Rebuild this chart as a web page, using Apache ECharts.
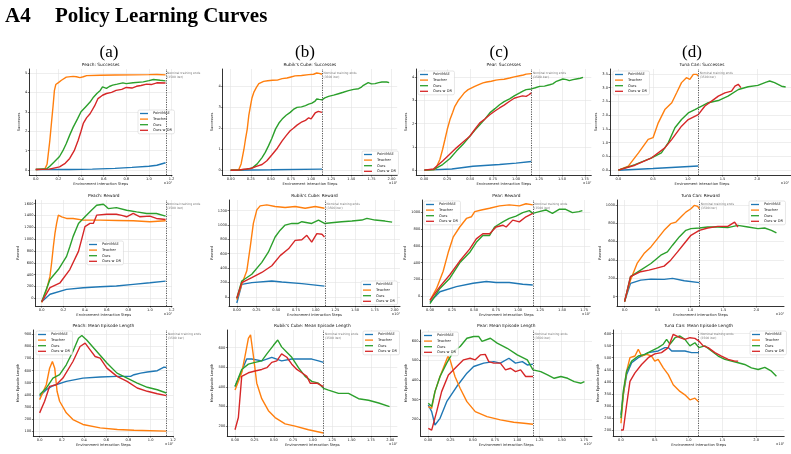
<!DOCTYPE html>
<html>
<head>
<meta charset="utf-8">
<title>Policy Learning Curves</title>
<script src="https://cdn.jsdelivr.net/npm/echarts@6.0.0/dist/echarts.min.js"></script>
<style>
  html, body { margin: 0; padding: 0; background: #fff; }
  #main { width: 791px; height: 454px; }
</style>
</head>
<body>
<div id="main"></div>
<script>
// ---- data: [steps, value] ----
const NAMES = ['PointMAE', 'Teacher', 'Ours', 'Ours w DR'];

// Peach: Successes
const peachSuccMAE = [[0,0.03],[0.3,0.03],[0.5,0.05],[0.7,0.09],[0.85,0.14],[1.0,0.2],[1.07,0.25],[1.147,0.38]];
const peachSuccTeacher = [[0,0.03],[0.08,0.05],[0.1,0.3],[0.124,1.5],[0.14,2.5],[0.153,3.3],[0.165,4.1],[0.177,4.4],[0.2,4.5],[0.227,4.62],[0.27,4.78],[0.33,4.82],[0.36,4.8],[0.39,4.76],[0.42,4.8],[0.45,4.86],[0.57,4.88],[0.7,4.89],[0.86,4.9],[1.0,4.91],[1.07,4.92],[1.147,4.9]];
const peachSuccOurs = [[0,0.03],[0.1,0.08],[0.124,0.2],[0.16,0.4],[0.21,0.7],[0.24,1.0],[0.27,1.37],[0.3,1.8],[0.33,2.2],[0.37,2.65],[0.40,3.0],[0.44,3.25],[0.48,3.5],[0.51,3.75],[0.54,3.94],[0.57,4.1],[0.59,4.28],[0.625,4.2],[0.65,4.3],[0.68,4.37],[0.72,4.42],[0.77,4.49],[0.8,4.45],[0.86,4.49],[0.95,4.54],[1.0,4.6],[1.04,4.66],[1.1,4.62],[1.147,4.59]];
const peachSuccDR = [[0,0.03],[0.12,0.05],[0.21,0.17],[0.26,0.35],[0.30,0.6],[0.34,1.0],[0.375,1.54],[0.40,2.0],[0.42,2.4],[0.45,2.7],[0.48,2.9],[0.52,3.3],[0.55,3.68],[0.59,3.85],[0.625,3.94],[0.67,4.0],[0.71,4.1],[0.76,4.15],[0.80,4.25],[0.85,4.22],[0.89,4.31],[0.93,4.35],[0.98,4.42],[1.02,4.4],[1.07,4.49],[1.147,4.48]];

// Rubik's Cube: Successes
const rubikSuccMAE = [[0,0],[0.5,0.02],[1.135,0.05]];
const rubikSuccTeacher = [[0,0],[0.1,0.02],[0.13,0.3],[0.165,1.0],[0.185,1.5],[0.206,1.96],[0.225,2.6],[0.247,3.08],[0.265,3.45],[0.289,3.73],[0.32,3.95],[0.35,4.13],[0.41,4.24],[0.46,4.27],[0.52,4.29],[0.58,4.3],[0.64,4.37],[0.7,4.4],[0.75,4.45],[0.80,4.5],[0.88,4.52],[0.97,4.56],[1.03,4.58],[1.07,4.64],[1.1,4.62],[1.135,4.58]];
const rubikSuccOurs = [[0,0],[0.1,0.01],[0.2,0.05],[0.27,0.11],[0.33,0.3],[0.39,0.6],[0.43,0.85],[0.47,1.16],[0.51,1.5],[0.557,1.96],[0.6,2.25],[0.64,2.44],[0.69,2.62],[0.74,2.76],[0.78,2.9],[0.825,3.0],[0.88,3.02],[0.93,3.08],[0.97,3.15],[1.01,3.2],[1.05,3.3],[1.07,3.4],[1.1,3.38],[1.135,3.36],[1.17,3.45],[1.217,3.52],[1.28,3.58],[1.34,3.65],[1.4,3.72],[1.465,3.8],[1.53,3.86],[1.59,3.89],[1.62,3.95],[1.65,4.05],[1.71,4.18],[1.75,4.12],[1.795,4.13],[1.84,4.18],[1.88,4.21],[1.94,4.21],[1.97,4.18]];
const rubikSuccDR = [[0,0],[0.1,0.01],[0.25,0.08],[0.32,0.18],[0.39,0.27],[0.45,0.45],[0.516,0.75],[0.58,1.05],[0.64,1.4],[0.69,1.65],[0.74,1.88],[0.78,2.0],[0.825,2.15],[0.887,2.31],[0.93,2.38],[0.97,2.5],[1.0,2.45],[1.05,2.73],[1.09,2.81],[1.135,2.76]];

// Pear: Successes
const pearSuccMAE = [[0,0],[0.3,0.05],[0.53,0.17],[0.82,0.24],[1.0,0.3],[1.167,0.37]];
const pearSuccTeacher = [[0,0],[0.116,0.02],[0.14,0.2],[0.17,0.46],[0.2,0.9],[0.225,1.32],[0.25,1.75],[0.28,2.18],[0.31,2.5],[0.333,2.75],[0.37,3.0],[0.406,3.18],[0.44,3.35],[0.478,3.47],[0.55,3.61],[0.6,3.7],[0.64,3.76],[0.68,3.8],[0.73,3.83],[0.78,3.88],[0.82,3.9],[0.87,3.92],[0.93,3.97],[0.98,4.02],[1.04,4.07],[1.08,4.1],[1.11,4.14],[1.167,4.16]];
const pearSuccOurs = [[0,0],[0.1,0.02],[0.2,0.24],[0.28,0.5],[0.35,0.82],[0.42,1.1],[0.496,1.46],[0.55,1.72],[0.605,1.96],[0.66,2.2],[0.714,2.47],[0.77,2.65],[0.82,2.82],[0.87,2.95],[0.93,3.07],[0.98,3.2],[1.04,3.33],[1.08,3.42],[1.11,3.47],[1.167,3.5],[1.21,3.55],[1.257,3.61],[1.31,3.62],[1.366,3.68],[1.4,3.72],[1.44,3.83],[1.51,3.93],[1.55,3.9],[1.58,3.86],[1.62,3.9],[1.656,3.93],[1.7,3.96],[1.73,4.0]];
const pearSuccDR = [[0,0],[0.1,0.05],[0.2,0.39],[0.28,0.7],[0.35,0.96],[0.42,1.2],[0.496,1.46],[0.55,1.75],[0.605,2.04],[0.66,2.2],[0.714,2.39],[0.77,2.55],[0.82,2.68],[0.87,2.8],[0.93,2.97],[0.98,3.1],[1.02,3.15],[1.07,3.2],[1.11,3.18],[1.14,3.25],[1.167,3.33]];

// Tuna Can: Successes
const tunaSuccMAE = [[0,0],[0.5,0.06],[1.151,0.15]];
const tunaSuccTeacher = [[0,0],[0.144,0.15],[0.29,0.63],[0.43,1.12],[0.5,1.18],[0.575,1.72],[0.67,2.2],[0.77,2.45],[0.84,2.81],[0.91,3.18],[0.98,3.36],[1.03,3.3],[1.08,3.48],[1.127,3.48],[1.151,3.42]];
const tunaSuccOurs = [[0,0],[0.24,0.2],[0.48,0.45],[0.62,0.63],[0.72,1.0],[0.815,1.54],[0.91,1.84],[1.007,2.08],[1.103,2.2],[1.2,2.33],[1.295,2.45],[1.44,2.53],[1.58,2.69],[1.73,2.93],[1.87,3.03],[2.01,3.08],[2.13,3.2],[2.18,3.24],[2.25,3.18],[2.35,3.05],[2.41,3.02]];
const tunaSuccDR = [[0,0],[0.24,0.18],[0.48,0.45],[0.67,0.81],[0.77,1.12],[0.91,1.6],[1.007,1.84],[1.151,2.02],[1.247,2.33],[1.343,2.51],[1.44,2.69],[1.535,2.81],[1.63,2.87],[1.68,3.05],[1.727,3.12],[1.765,3.0]];

// Peach: Reward
const peachRewMAE = [[0,-60],[0.077,67],[0.23,150],[0.385,178],[0.54,195],[0.69,206],[0.846,234],[1.0,262],[1.145,290]];
const peachRewTeacher = [[0,-72],[0.046,150],[0.077,373],[0.092,600],[0.108,875],[0.123,1100],[0.138,1265],[0.154,1405],[0.17,1390],[0.185,1377],[0.23,1349],[0.29,1349],[0.385,1320],[0.54,1320],[0.7,1315],[0.846,1310],[1.0,1293],[1.145,1310]];
const peachRewOurs = [[0,-60],[0.077,318],[0.154,485],[0.23,708],[0.26,870],[0.29,1042],[0.34,1265],[0.4,1377],[0.46,1488],[0.508,1572],[0.57,1589],[0.59,1560],[0.615,1516],[0.69,1533],[0.785,1488],[0.877,1460],[0.97,1433],[1.06,1433],[1.145,1388]];
const peachRewDR = [[0,-60],[0.077,178],[0.17,262],[0.26,485],[0.34,792],[0.37,1000],[0.4,1210],[0.446,1265],[0.477,1265],[0.508,1405],[0.6,1421],[0.69,1421],[0.74,1400],[0.785,1377],[0.846,1433],[0.908,1377],[1.0,1388],[1.06,1349],[1.145,1332]];

// Rubik's Cube: Reward
const rubikRewMAE = [[0,-85],[0.063,174],[0.19,198],[0.444,221],[0.57,207],[0.825,184],[1.112,150]];
const rubikRewTeacher = [[0,-38],[0.063,174],[0.127,362],[0.17,692],[0.21,1021],[0.254,1209],[0.296,1266],[0.38,1280],[0.486,1256],[0.613,1242],[0.74,1256],[0.867,1233],[0.994,1256],[1.112,1233]];
const rubikRewOurs = [[0,-20],[0.063,221],[0.19,315],[0.317,480],[0.4,621],[0.486,833],[0.55,927],[0.613,998],[0.698,1021],[0.78,1021],[0.825,1045],[0.95,1021],[1.036,1068],[1.112,1021],[1.2,1031],[1.33,1045],[1.46,1054],[1.586,1068],[1.65,1092],[1.755,1068],[1.88,1054],[1.97,1040]];
const rubikRewDR = [[0,-20],[0.063,198],[0.19,268],[0.317,339],[0.444,433],[0.55,574],[0.656,668],[0.74,786],[0.825,795],[0.888,856],[0.95,762],[1.015,880],[1.08,871],[1.112,833]];

// Pear: Reward
const pearRewMAE = [[0,-69],[0.113,53],[0.3,114],[0.489,154],[0.64,175],[0.75,163],[0.9,163],[1.053,142],[1.167,134]];
const pearRewTeacher = [[0,-49],[0.075,93],[0.15,297],[0.207,520],[0.263,703],[0.338,825],[0.414,927],[0.47,947],[0.508,1008],[0.583,1028],[0.677,1049],[0.79,1077],[0.9,1089],[1.015,1077],[1.09,1102],[1.167,1089]];
const pearRewOurs = [[0,-89],[0.113,93],[0.226,215],[0.338,398],[0.45,520],[0.526,642],[0.6,724],[0.677,724],[0.733,825],[0.827,886],[0.9,927],[0.977,955],[1.053,996],[1.128,1020],[1.167,988],[1.24,1008],[1.316,1028],[1.39,988],[1.466,1036],[1.54,1036],[1.617,996],[1.69,1008],[1.73,1020]];
const pearRewDR = [[0,-49],[0.113,114],[0.226,256],[0.338,419],[0.45,561],[0.526,683],[0.6,744],[0.677,744],[0.75,825],[0.827,846],[0.865,825],[0.94,907],[1.015,886],[1.09,947],[1.167,988]];

// Tuna Can: Reward
const tunaRewMAE = [[0,-54],[0.09,144],[0.244,180],[0.4,191],[0.6,188],[0.728,199],[0.906,173],[1.135,152]];
const tunaRewTeacher = [[0,-54],[0.04,54],[0.09,180],[0.19,361],[0.295,469],[0.4,541],[0.5,632],[0.6,722],[0.7,794],[0.78,812],[0.855,866],[0.93,920],[1.007,957],[1.058,993],[1.11,982],[1.135,957]];
const tunaRewOurs = [[0,-54],[0.09,217],[0.244,289],[0.4,361],[0.55,451],[0.65,487],[0.728,560],[0.83,650],[0.93,722],[1.007,740],[1.135,747],[1.262,758],[1.415,758],[1.567,751],[1.72,776],[1.873,758],[2.025,740],[2.127,747],[2.229,722],[2.305,693]];
const tunaRewDR = [[0,-54],[0.09,217],[0.244,271],[0.37,289],[0.473,307],[0.6,332],[0.7,397],[0.804,487],[0.906,578],[1.007,668],[1.135,722],[1.262,747],[1.415,765],[1.567,765],[1.67,812],[1.72,758]];

// Peach: Mean Episode Length
const peachLenMAE = [[0,388],[0.06,442],[0.12,475],[0.24,511],[0.39,538],[0.545,547],[0.697,552],[0.82,552],[0.85,566],[0.91,579],[0.97,588],[1.06,599],[1.12,629],[1.142,626]];
const peachLenTeacher = [[0,360],[0.06,483],[0.09,620],[0.115,675],[0.136,620],[0.157,429],[0.18,347],[0.24,251],[0.30,196],[0.39,155],[0.545,127],[0.70,114],[0.85,108],[1.142,100]];
const peachLenOurs = [[0,401],[0.06,456],[0.12,538],[0.18,566],[0.24,648],[0.30,758],[0.35,867],[0.38,889],[0.424,853],[0.515,758],[0.606,662],[0.697,579],[0.788,538],[0.879,497],[0.97,462],[1.06,442],[1.142,415]];
const peachLenDR = [[0,251],[0.045,347],[0.09,470],[0.15,483],[0.21,538],[0.30,675],[0.364,799],[0.41,826],[0.455,771],[0.5,716],[0.545,703],[0.606,620],[0.697,552],[0.788,511],[0.879,456],[0.97,429],[1.06,409],[1.142,393]];

// Rubik's Cube: Mean Episode Length
const rubikLenMAE = [[0,402],[0.086,481],[0.15,542],[0.215,542],[0.344,533],[0.473,551],[0.6,533],[0.731,542],[0.86,542],[0.989,542],[1.075,533],[1.14,525]];
const rubikLenTeacher = [[0,384],[0.043,428],[0.086,472],[0.13,560],[0.172,647],[0.2,665],[0.236,560],[0.28,419],[0.344,340],[0.43,279],[0.516,244],[0.645,212],[0.774,200],[0.946,182],[1.14,165]];
const rubikLenOurs = [[0,402],[0.086,489],[0.172,516],[0.258,525],[0.344,533],[0.41,568],[0.495,612],[0.55,639],[0.6,604],[0.667,577],[0.731,551],[0.817,498],[0.903,454],[0.989,428],[1.075,419],[1.14,393],[1.204,384],[1.333,367],[1.462,367],[1.591,340],[1.72,332],[1.85,318],[1.99,300]];
const rubikLenDR = [[0,182],[0.043,244],[0.086,454],[0.172,472],[0.258,481],[0.344,489],[0.41,498],[0.473,525],[0.538,533],[0.6,568],[0.667,551],[0.731,516],[0.796,489],[0.86,472],[0.925,454],[0.968,419],[1.054,419],[1.14,402]];

// Pear: Mean Episode Length
const pearLenMAE = [[0,273],[0.038,239],[0.075,171],[0.132,205],[0.207,290],[0.32,367],[0.434,435],[0.51,469],[0.623,486],[0.736,494],[0.81,486],[0.906,511],[0.98,486],[1.057,494],[1.113,477],[1.177,481]];
const pearLenTeacher = [[0,265],[0.038,256],[0.075,341],[0.132,418],[0.19,486],[0.22,520],[0.245,503],[0.30,418],[0.358,358],[0.434,290],[0.528,239],[0.66,214],[0.81,197],[0.96,185],[1.075,180],[1.177,175]];
const pearLenOurs = [[0,282],[0.038,265],[0.075,341],[0.132,418],[0.207,486],[0.283,546],[0.358,571],[0.434,613],[0.51,622],[0.566,622],[0.604,597],[0.698,613],[0.774,588],[0.887,562],[1.0,528],[1.113,503],[1.177,452],[1.264,443],[1.34,426],[1.415,409],[1.49,418],[1.566,409],[1.64,392],[1.717,384],[1.755,392]];
const pearLenDR = [[0,154],[0.038,145],[0.094,239],[0.15,341],[0.226,426],[0.32,469],[0.396,503],[0.47,511],[0.528,503],[0.585,528],[0.64,531],[0.68,494],[0.736,486],[0.81,486],[0.868,452],[0.925,460],[0.98,443],[1.038,452],[1.094,418],[1.177,418]];

// Tuna Can: Mean Episode Length
const tunaLenMAE = [[0,263],[0.034,346],[0.084,430],[0.158,479],[0.256,500],[0.404,521],[0.55,528],[0.65,542],[0.7,542],[0.75,528],[0.847,528],[0.946,528],[1.044,521],[1.153,521]];
const tunaLenTeacher = [[0,228],[0.034,346],[0.084,444],[0.133,500],[0.207,507],[0.256,535],[0.305,507],[0.38,514],[0.453,507],[0.5,486],[0.55,493],[0.626,458],[0.7,430],[0.773,388],[0.872,360],[0.946,346],[1.02,325],[1.094,332],[1.153,316]];
const tunaLenOurs = [[0,249],[0.034,360],[0.084,444],[0.158,486],[0.256,507],[0.355,514],[0.453,528],[0.55,542],[0.626,556],[0.675,576],[0.724,556],[0.8,583],[0.872,590],[0.946,576],[1.02,549],[1.094,562],[1.153,542],[1.24,549],[1.34,528],[1.438,507],[1.537,493],[1.635,486],[1.734,479],[1.83,472],[1.93,458],[2.03,451],[2.128,460],[2.227,444],[2.3,423]];
const tunaLenDR = [[0,200],[0.034,200],[0.084,305],[0.133,402],[0.207,437],[0.305,472],[0.404,500],[0.5,516],[0.6,521],[0.7,542],[0.773,597],[0.872,583],[0.946,576],[1.02,583],[1.094,580],[1.153,569],[1.217,549],[1.29,542],[1.39,521],[1.487,507],[1.586,493],[1.685,486],[1.734,486]];

// tick labels
const xTicksA = [0, 0.2, 0.4, 0.6, 0.8, 1.0, 1.2];
const xTicksB = [0, 0.25, 0.5, 0.75, 1.0, 1.25, 1.5, 1.75, 2.0];
const xTicksC = [0, 0.25, 0.5, 0.75, 1.0, 1.25, 1.5, 1.75];
const xTicksD = [0, 0.5, 1.0, 1.5, 2.0];
const yTicksSuccA = [0, 1, 2, 3, 4, 5];
const yTicksSuccBC = [0, 1, 2, 3, 4];
const yTicksSuccD = [0, 0.5, 1.0, 1.5, 2.0, 2.5, 3.0, 3.5];
const yTicksRewA = [0, 200, 400, 600, 800, 1000, 1200, 1400, 1600];
const yTicksRewB = [0, 200, 400, 600, 800, 1000, 1200];
const yTicksRewCD = [0, 200, 400, 600, 800, 1000];
const yTicksLenA = [100, 200, 300, 400, 500, 600, 700, 800, 900];
const yTicksLenBC = [200, 300, 400, 500, 600];
const yTicksLenD = [200, 250, 300, 350, 400, 450, 500, 550, 600];

// ---- layout / styling ----
const COLORS = ['#1f77b4', '#ff7f0e', '#2ca02c', '#d62728'];
const FONT = 'DejaVu Sans';
const SERIF = 'Liberation Serif';

const panels = [
  {title: 'Peach: Successes', yName: 'Successes', s: [peachSuccMAE, peachSuccTeacher, peachSuccOurs, peachSuccDR],
   xt: xTicksA, xd: 1, yt: yTicksSuccA, yd: 0, x: [-0.057, 1.204], y: [-0.25, 5.2], nom: 1.147,
   box: [29.3, 69, 142.7, 106], leg: [138, 110], yGap: 8},
  {title: "Rubik's Cube: Successes", yName: 'Successes', s: [rubikSuccMAE, rubikSuccTeacher, rubikSuccOurs, rubikSuccDR],
   xt: xTicksB, xd: 2, yt: yTicksSuccBC, yd: 0, x: [-0.099, 2.07], y: [-0.23, 4.83], nom: 1.135,
   box: [222.7, 69, 174.5, 106], leg: [362, 151], yGap: 8},
  {title: 'Pear: Successes', yName: 'Successes', s: [pearSuccMAE, pearSuccTeacher, pearSuccOurs, pearSuccDR],
   xt: xTicksC, xd: 2, yt: yTicksSuccBC, yd: 0, x: [-0.087, 1.82], y: [-0.21, 4.36], nom: 1.167,
   box: [416.3, 69, 175, 106], leg: [418, 71], yGap: 8},
  {title: 'Tuna Can: Successes', yName: 'Successes', s: [tunaSuccMAE, tunaSuccTeacher, tunaSuccOurs, tunaSuccDR],
   xt: xTicksD, xd: 1, yt: yTicksSuccD, yd: 1, x: [-0.12, 2.53], y: [-0.175, 3.675], nom: 1.151,
   box: [610, 69, 184, 106], leg: [613, 71], yGap: 10},

  {title: 'Peach: Reward', yName: 'Reward', s: [peachRewMAE, peachRewTeacher, peachRewOurs, peachRewDR],
   xt: xTicksA, xd: 1, yt: yTicksRewA, yd: 0, x: [-0.057, 1.204], y: [-131, 1661], nom: 1.145,
   box: [35.5, 200, 136.5, 106], leg: [87, 241], yGap: 14},
  {title: "Rubik's Cube: Reward", yName: 'Reward', s: [rubikRewMAE, rubikRewTeacher, rubikRewOurs, rubikRewDR],
   xt: xTicksB, xd: 2, yt: yTicksRewB, yd: 0, x: [-0.099, 2.07], y: [-127, 1347], nom: 1.12,
   box: [229, 200, 171, 106], leg: [361, 281], yGap: 14},
  {title: 'Pear: Reward', yName: 'Reward', s: [pearRewMAE, pearRewTeacher, pearRewOurs, pearRewDR],
   xt: xTicksC, xd: 2, yt: yTicksRewCD, yd: 0, x: [-0.087, 1.82], y: [-117, 1147], nom: 1.167,
   box: [422.3, 200, 168, 106], leg: [424, 201], yGap: 14},
  {title: 'Tuna Can: Reward', yName: 'Reward', s: [tunaRewMAE, tunaRewTeacher, tunaRewOurs, tunaRewDR],
   xt: xTicksD, xd: 1, yt: yTicksRewCD, yd: 0, x: [-0.115, 2.42], y: [-102, 1052], nom: 1.135,
   box: [617, 200, 167, 106], leg: [749, 201], yGap: 14},

  {title: 'Peach: Mean Episode Length', yName: 'Mean Episode Length', s: [peachLenMAE, peachLenTeacher, peachLenOurs, peachLenDR],
   xt: xTicksA, xd: 1, yt: yTicksLenA, yd: 0, x: [-0.057, 1.204], y: [60, 935], nom: 1.142,
   box: [33.3, 330, 140, 106], leg: [36, 331], yGap: 11},
  {title: "Rubik's Cube: Mean Episode Length", yName: 'Mean Episode Length', s: [rubikLenMAE, rubikLenTeacher, rubikLenOurs, rubikLenDR],
   xt: xTicksB, xd: 2, yt: yTicksLenBC, yd: 0, x: [-0.0995, 2.09], y: [150, 690], nom: 1.14,
   box: [227.3, 330, 170, 106], leg: [363, 331], yGap: 11},
  {title: 'Pear: Mean Episode Length', yName: 'Mean Episode Length', s: [pearLenMAE, pearLenTeacher, pearLenOurs, pearLenDR],
   xt: xTicksC, xd: 2, yt: yTicksLenBC, yd: 0, x: [-0.0875, 1.84], y: [115, 655], nom: 1.177,
   box: [420.5, 330, 171.5, 106], leg: [422, 332], yGap: 11},
  {title: 'Tuna Can: Mean Episode Length', yName: 'Mean Episode Length', s: [tunaLenMAE, tunaLenTeacher, tunaLenOurs, tunaLenDR],
   xt: xTicksD, xd: 1, yt: yTicksLenD, yd: 0, x: [-0.115, 2.415], y: [175, 615], nom: 1.153,
   box: [613.2, 330, 171, 106], leg: [750, 331], yGap: 11}
];

const chart = echarts.init(document.getElementById('main'), null, {renderer: 'canvas'});

const grid = [], xAxis = [], yAxis = [], series = [], legend = [];
const graphic = [
  {type: 'text', x: 5, y: 17, style: {text: 'A4', font: 'bold 21px "' + SERIF + '"', fill: '#000', verticalAlign: 'middle'}},
  {type: 'text', x: 55, y: 17, style: {text: 'Policy Learning Curves', font: 'bold 21px "' + SERIF + '"', fill: '#000', verticalAlign: 'middle'}}
];
[['(a)', 109], ['(b)', 305], ['(c)', 499], ['(d)', 692]].forEach(([t, cx]) => {
  graphic.push({type: 'text', x: cx, y: 53, style: {text: t, font: '17px "' + SERIF + '"', fill: '#000', align: 'center', verticalAlign: 'middle'}});
});

const tickText = {fontSize: 3.6, color: '#222', fontFamily: FONT};

panels.forEach((p, i) => {
  const [l, t, w, h] = p.box;
  grid.push({left: l, top: t, width: w, height: h, containLabel: false, outerBoundsMode: 'none'});

  xAxis.push({
    type: 'value', gridIndex: i, min: p.x[0], max: p.x[1],
    name: 'Environment Interaction Steps', nameLocation: 'middle', nameGap: 7,
    nameTextStyle: tickText,
    axisLine: {onZero: false, lineStyle: {color: '#000', width: 0.8}},
    axisTick: {length: 1.5, customValues: p.xt, lineStyle: {color: '#000', width: 0.5}},
    axisLabel: {customValues: p.xt, formatter: v => v.toFixed(p.xd), margin: 2, ...tickText},
    splitLine: {show: true, lineStyle: {color: '#e3e3e3', width: 0.6}}
  });
  yAxis.push({
    type: 'value', gridIndex: i, min: p.y[0], max: p.y[1],
    name: p.yName, nameLocation: 'middle', nameRotate: 90, nameGap: p.yGap,
    nameTextStyle: tickText,
    axisLine: {show: true, onZero: false, lineStyle: {color: '#000', width: 0.8}},
    axisTick: {show: true, length: 1.5, customValues: p.yt, lineStyle: {color: '#000', width: 0.5}},
    axisLabel: {customValues: p.yt, formatter: v => v.toFixed(p.yd), margin: 2, ...tickText},
    splitLine: {show: true, lineStyle: {color: '#e3e3e3', width: 0.6}}
  });

  p.s.forEach((d, k) => {
    const s = {
      type: 'line', name: NAMES[k], xAxisIndex: i, yAxisIndex: i, data: d,
      showSymbol: false, symbol: 'none', animation: false,
      lineStyle: {width: 1.4, color: COLORS[k]}, itemStyle: {color: COLORS[k]}
    };
    if (k === 0) {
      s.markLine = {
        silent: true, symbol: 'none', animation: false,
        lineStyle: {type: [1.2, 1.2], color: '#444', width: 0.9},
        label: {show: false},
        data: [{xAxis: p.nom}]
      };
      s.markPoint = {
        silent: true, animation: false, symbol: 'circle', symbolSize: 1,
        itemStyle: {color: 'rgba(0,0,0,0)'},
        label: {show: true, formatter: 'Nominal training ends\n(3500 iter)', position: [2, 3],
                align: 'left', verticalAlign: 'top', fontSize: 3, lineHeight: 3.8, color: '#777', fontFamily: FONT},
        data: [{coord: [p.nom, p.y[1]]}]
      };
    }
    series.push(s);
  });

  legend.push({
    data: NAMES, left: p.leg[0], top: p.leg[1], orient: 'vertical', selectedMode: false,
    icon: 'rect', itemWidth: 8, itemHeight: 1.3, itemGap: 1.6, padding: [1.5, 2.5, 1.5, 2],
    textStyle: {fontSize: 3.6, color: '#222', fontFamily: FONT},
    backgroundColor: 'rgba(255,255,255,0.85)', borderColor: '#cccccc', borderWidth: 0.5, borderRadius: 1.5
  });

  graphic.push({type: 'text', x: l + w / 2, y: t - 4,
    style: {text: p.title, fontSize: 4.3, fontFamily: FONT, fill: '#111', align: 'center', verticalAlign: 'middle'}});
  graphic.push({type: 'text', x: Math.min(l + w, 789), y: t + h + 8,
    style: {text: '×10⁷', fontSize: 3.4, fontFamily: FONT, fill: '#222', align: 'right', verticalAlign: 'middle'}});
});

chart.setOption({
  backgroundColor: '#fff',
  animation: false,
  grid, xAxis, yAxis, series, legend, graphic
});
</script>
</body>
</html>
